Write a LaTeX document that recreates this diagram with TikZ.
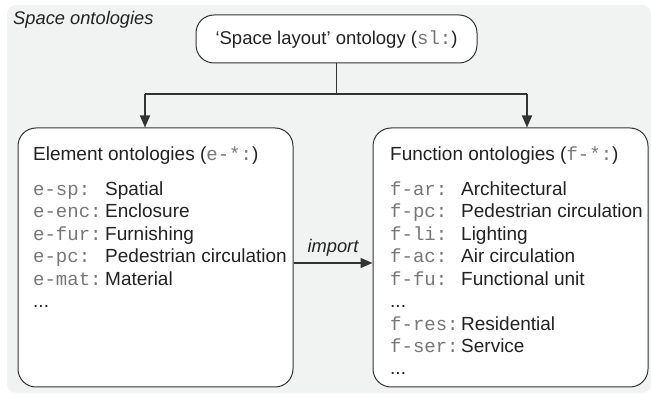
\documentclass[tikz,border=0pt]{standalone}
\usepackage{fontspec}
\setmainfont{Liberation Sans}
\setmonofont{Liberation Mono}
\usetikzlibrary{arrows.meta}
\definecolor{bggrey}{HTML}{F1F3F2}
\definecolor{edge}{HTML}{333333}
\definecolor{txt}{HTML}{222222}
\definecolor{mono}{HTML}{777777}
\tikzset{
  box/.style={draw=edge, line width=1pt, fill=white, rounded corners=18pt, inner sep=0pt},
  conn/.style={draw=edge, line width=1.4pt},
  tip/.style={conn, -{Triangle[length=12pt,width=10pt]}},
  row/.style={anchor=base west, inner sep=0pt, text=txt, font=\fontsize{19}{22}\selectfont},
  pre/.style={anchor=base west, inner sep=0pt, text=mono, font=\fontsize{19}{22}\ttfamily},
}
\newcommand{\mt}[1]{{\color{mono}\fontsize{19}{22}\ttfamily #1}}
\begin{document}
\begin{tikzpicture}[x=1pt,y=-1pt]
\useasboundingbox (0,0) rectangle (651,395);
\fill[bggrey, rounded corners=9pt] (7,5) rectangle (651,393);
\node[anchor=base west, inner sep=0pt, text=txt, font=\fontsize{18.3}{22}\itshape\selectfont] (title) at (13,25) {Space ontologies};
% top node
\node[box, minimum width=281pt, minimum height=48pt] (top) at (336.5,39) {};
\node[anchor=base, inner sep=0pt, text=txt, font=\fontsize{18.5}{22}\selectfont] (toptxt) at (336.5,45) {‘Space layout’ ontology (\mt{sl:})};
% boxes
\node[box, minimum width=275pt, minimum height=259pt] (lbox) at (155.5,257.5) {};
\node[box, minimum width=275pt, minimum height=259pt] (rbox) at (510.5,257.5) {};
% left content
\node[row] (lh) at (33,161) {Element ontologies (\mt{e-*:})};
\foreach \p/\t [count=\i] in {e-sp:/Spatial, e-enc:/Enclosure, e-fur:/Furnishing, e-pc:/Pedestrian circulation, e-mat:/Material}{
  \node[pre] (lp\i) at (33,172.5+22.6*\i) {\p};
  \node[row] (lt\i) at (105,172.5+22.6*\i) {\t};
}
\node[row] (ld) at (33,308) {...};
% right content
\node[row] (rh) at (390,161) {Function ontologies (\mt{f-*:})};
\foreach \p/\t [count=\i] in {f-ar:/Architectural, f-pc:/Pedestrian circulation, f-li:/Lighting, f-ac:/Air circulation, f-fu:/Functional unit}{
  \node[pre] (rp\i) at (390,172.5+22.6*\i) {\p};
  \node[row] (rt\i) at (461,172.5+22.6*\i) {\t};
}
\node[row] (rd1) at (390,308) {...};
\node[pre] (rp6) at (390,330.5) {f-res:};
\node[row] (rt6) at (461,330.5) {Residential};
\node[pre] (rp7) at (390,353) {f-ser:};
\node[row] (rt7) at (461,353) {Service};
\node[row] (rd2) at (390,375) {...};
% connectors
\coordinate (jl) at (145,94);
\coordinate (jr) at (527,94);
\draw[conn] (top.south) -- (top.south |- jl);
\draw[conn] (jl) -- (jr);
\draw[tip] (jl) -- (jl |- lbox.north);
\draw[tip] (jr) -- (jr |- rbox.north);
\coordinate (iy) at (0,263);
\draw[tip] (lbox.east |- iy) -- node[above=3pt, text=txt, font=\fontsize{18.3}{22}\itshape\selectfont] (imp) {import} (rbox.west |- iy);
\end{tikzpicture}
\end{document}
